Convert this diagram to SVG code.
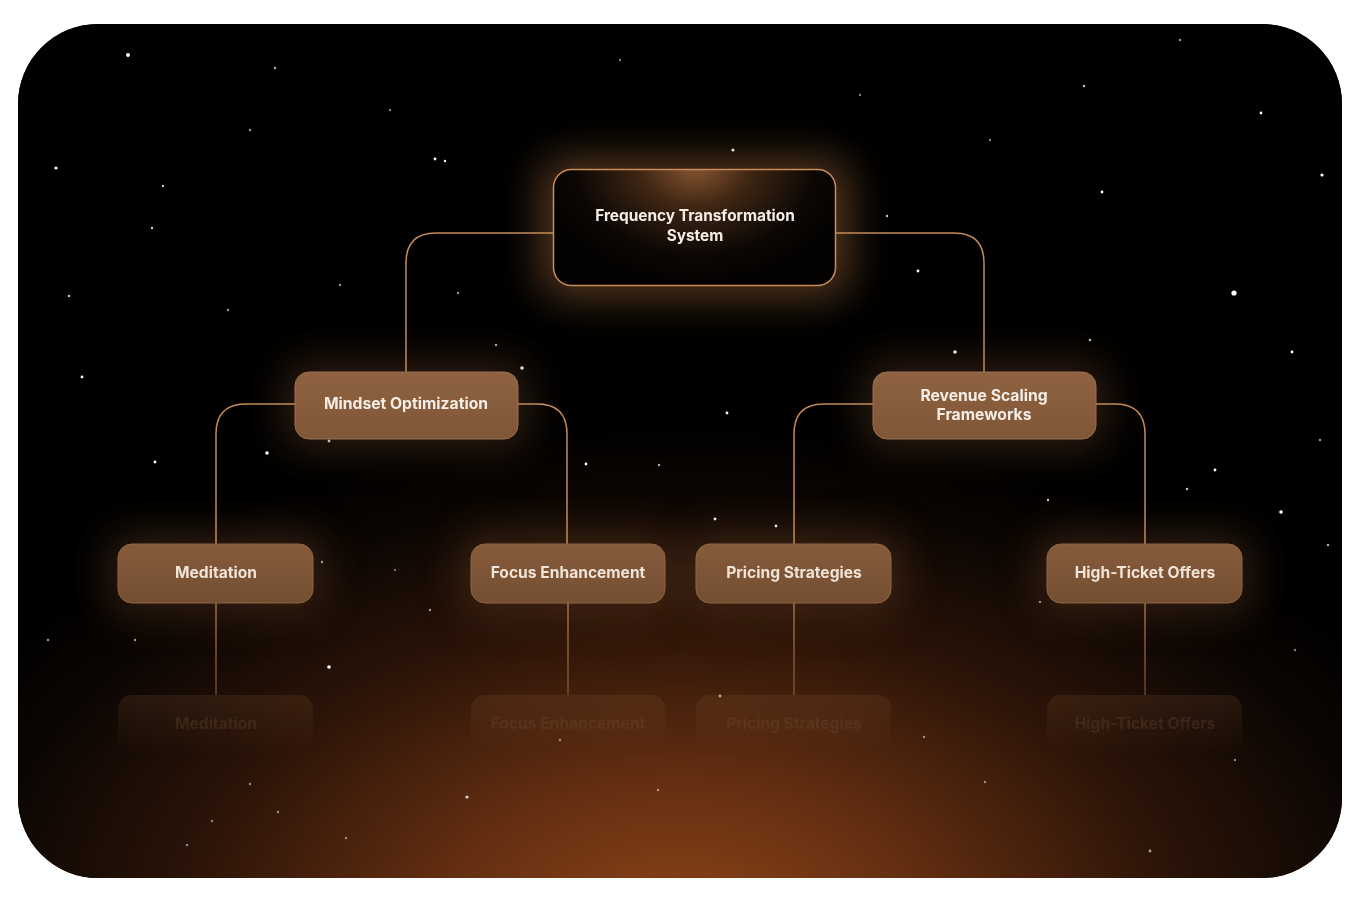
<svg xmlns="http://www.w3.org/2000/svg" width="1360" height="901" viewBox="0 0 1360 901">
<defs>
<clipPath id="panel"><rect x="18" y="24" width="1324" height="854" rx="80"/></clipPath>
<radialGradient id="bg" gradientUnits="userSpaceOnUse" cx="680" cy="930" r="820" gradientTransform="translate(680 930) scale(1 0.62) translate(-680 -930)">
<stop offset="0" stop-color="#8e4519"/>
<stop offset="0.3" stop-color="#632e11"/>
<stop offset="0.6" stop-color="#2c1408"/>
<stop offset="0.85" stop-color="#0c0603"/>
<stop offset="1" stop-color="#000"/>
</radialGradient>
<radialGradient id="rootFill" gradientUnits="userSpaceOnUse" cx="695" cy="165" r="160" gradientTransform="translate(695 165) scale(1 0.75) translate(-695 -165)">
<stop offset="0" stop-color="#8a5630"/>
<stop offset="0.35" stop-color="#3e2614"/>
<stop offset="0.75" stop-color="#0c0704"/>
<stop offset="1" stop-color="#030201"/>
</radialGradient>
<linearGradient id="nodeFill" x1="0" y1="0" x2="0" y2="1">
<stop offset="0" stop-color="#8f6341"/>
<stop offset="1" stop-color="#7f5637"/>
</linearGradient>
<linearGradient id="leafFill" x1="0" y1="0" x2="0" y2="1">
<stop offset="0" stop-color="#865b3b"/>
<stop offset="1" stop-color="#744e31"/>
</linearGradient>
<linearGradient id="reflFill" x1="0" y1="0" x2="0" y2="1">
<stop offset="0" stop-color="#8a5a38" stop-opacity="0.2"/>
<stop offset="1" stop-color="#8a5a38" stop-opacity="0"/>
</linearGradient>
<linearGradient id="reflLine" x1="0" y1="0" x2="0" y2="1">
<stop offset="0" stop-color="#b07a4c" stop-opacity="0.9"/>
<stop offset="1" stop-color="#b07a4c" stop-opacity="0.5"/>
</linearGradient>
<filter id="blur20" x="-50%" y="-100%" width="200%" height="300%"><feGaussianBlur stdDeviation="20"/></filter>
<filter id="star" x="-200%" y="-200%" width="500%" height="500%"><feGaussianBlur stdDeviation="0.6"/></filter>
</defs>
<style>
.conn{fill:none;stroke:#c48a58;stroke-width:1.5}
.lbl{font-family:Inter,"Noto Sans","DejaVu Sans",sans-serif;font-weight:700;fill:#f6eee6;text-anchor:middle}
.root-t{font-size:15.4px}
.mid-t{font-size:15.7px}
.leaf-t{font-size:15.6px;fill:#f0e4d8}
.refl-t{font-size:15.6px;fill:#7a5a42;opacity:0.25}
.node{fill:url(#nodeFill);stroke:#9a7050;stroke-width:1}
.leaf{fill:url(#leafFill);stroke:#8e6646;stroke-width:1}
.refl{fill:url(#reflFill)}
.halo{fill:#5e3b20;opacity:0.5;filter:url(#blur20)}
.s{fill:#fff}
</style>
<g clip-path="url(#panel)">
<rect x="18" y="24" width="1324" height="854" fill="#000"/>
<rect x="18" y="24" width="1324" height="854" fill="url(#bg)"/>
<g id="stars" filter="url(#star)">
<circle class="s" cx="128" cy="55" r="2"/>
<circle class="s" cx="275" cy="68" r="1.2" opacity="0.7"/>
<circle class="s" cx="733" cy="150" r="1.6"/>
<circle class="s" cx="1234" cy="293" r="2.6"/>
<circle class="s" cx="56" cy="168" r="1.6"/>
<circle class="s" cx="1322" cy="175" r="1.6"/>
<circle class="s" cx="1281" cy="512" r="1.8"/>
<circle class="s" cx="155" cy="462" r="1.4"/>
<circle class="s" cx="267" cy="453" r="1.8"/>
<circle class="s" cx="329" cy="667" r="1.8"/>
<circle class="s" cx="82" cy="377" r="1.4"/>
<circle class="s" cx="467" cy="797" r="1.6" opacity="0.8"/>
<circle class="s" cx="955" cy="352" r="1.8"/>
<circle class="s" cx="727" cy="413" r="1.4"/>
<circle class="s" cx="586" cy="464" r="1.4"/>
<circle class="s" cx="715" cy="519" r="1.4"/>
<circle class="s" cx="918" cy="271" r="1.4"/>
<circle class="s" cx="152" cy="228" r="1.2" opacity="0.8"/>
<circle class="s" cx="1102" cy="192" r="1.4"/>
<circle class="s" cx="1261" cy="113" r="1.4"/>
<circle class="s" cx="1150" cy="851" r="1.4" opacity="0.6"/>
<circle class="s" cx="435" cy="159" r="1.4"/>
<circle class="s" cx="445" cy="161" r="1.2"/>
<circle class="s" cx="163" cy="186" r="1.2" opacity="0.8"/>
<circle class="s" cx="69" cy="296" r="1.2" opacity="0.8"/>
<circle class="s" cx="1292" cy="352" r="1.4"/>
<circle class="s" cx="1215" cy="470" r="1.4"/>
<circle class="s" cx="1187" cy="489" r="1.2" opacity="0.8"/>
<circle class="s" cx="1084" cy="86" r="1.2" opacity="0.8"/>
<circle class="s" cx="1090" cy="340" r="1.2" opacity="0.8"/>
<circle class="s" cx="887" cy="216" r="1.2" opacity="0.8"/>
<circle class="s" cx="1048" cy="500" r="1.2" opacity="0.8"/>
<circle class="s" cx="1328" cy="545" r="1.2" opacity="0.7"/>
<circle class="s" cx="1100" cy="590" r="1.2" opacity="0.6"/>
<circle class="s" cx="1040" cy="602" r="1.2" opacity="0.6"/>
<circle class="s" cx="776" cy="526" r="1.4"/>
<circle class="s" cx="804" cy="596" r="1.4" opacity="0.8"/>
<circle class="s" cx="659" cy="465" r="1.2" opacity="0.7"/>
<circle class="s" cx="522" cy="368" r="1.8"/>
<circle class="s" cx="329" cy="441" r="1.4"/>
<circle class="s" cx="428" cy="425" r="1.4" opacity="0.8"/>
<circle class="s" cx="496" cy="345" r="1.2" opacity="0.7"/>
<circle class="s" cx="458" cy="293" r="1.2" opacity="0.6"/>
<circle class="s" cx="250" cy="130" r="1.2" opacity="0.6"/>
<circle class="s" cx="340" cy="285" r="1.2" opacity="0.6"/>
<circle class="s" cx="228" cy="310" r="1.2" opacity="0.6"/>
<circle class="s" cx="48" cy="640" r="1.2" opacity="0.6"/>
<circle class="s" cx="135" cy="640" r="1.2" opacity="0.6"/>
<circle class="s" cx="322" cy="562" r="1.2" opacity="0.7"/>
<circle class="s" cx="395" cy="570" r="1" opacity="0.6"/>
<circle class="s" cx="172" cy="552" r="1.2" opacity="0.7"/>
<circle class="s" cx="293" cy="571" r="1.4" opacity="0.8"/>
<circle class="s" cx="483" cy="597" r="1.2" opacity="0.6"/>
<circle class="s" cx="430" cy="610" r="1.2" opacity="0.6"/>
<circle class="s" cx="250" cy="784" r="1.2" opacity="0.5"/>
<circle class="s" cx="212" cy="821" r="1.2" opacity="0.5"/>
<circle class="s" cx="278" cy="812" r="1.2" opacity="0.5"/>
<circle class="s" cx="187" cy="845" r="1.2" opacity="0.5"/>
<circle class="s" cx="346" cy="838" r="1.2" opacity="0.5"/>
<circle class="s" cx="924" cy="737" r="1.2" opacity="0.5"/>
<circle class="s" cx="985" cy="782" r="1.2" opacity="0.5"/>
<circle class="s" cx="1235" cy="760" r="1.2" opacity="0.5"/>
<circle class="s" cx="1295" cy="650" r="1.2" opacity="0.5"/>
<circle class="s" cx="658" cy="790" r="1.2" opacity="0.5"/>
<circle class="s" cx="560" cy="740" r="1.2" opacity="0.5"/>
<circle class="s" cx="720" cy="696" r="1.4" opacity="0.7"/>
<circle class="s" cx="1320" cy="440" r="1.2" opacity="0.6"/>
<circle class="s" cx="1180" cy="40" r="1.2" opacity="0.6"/>
<circle class="s" cx="620" cy="60" r="1.2" opacity="0.5"/>
<circle class="s" cx="860" cy="95" r="1.2" opacity="0.5"/>
<circle class="s" cx="990" cy="140" r="1.2" opacity="0.5"/>
<circle class="s" cx="390" cy="110" r="1.2" opacity="0.5"/>
</g>
<g id="halos">
<rect x="540" y="158" width="310" height="140" rx="24" fill="#8a5a30" opacity="0.6" filter="url(#blur20)"/>
<rect class="halo" x="285" y="362" width="243" height="87" rx="18"/>
<rect class="halo" x="863" y="362" width="243" height="87" rx="18"/>
<rect class="halo" x="108" y="534" width="215" height="79" rx="18"/>
<rect class="halo" x="461" y="534" width="215" height="79" rx="18"/>
<rect class="halo" x="686" y="534" width="215" height="79" rx="18"/>
<rect class="halo" x="1037" y="534" width="215" height="79" rx="18"/>
</g>
<g id="connectors">
<path class="conn" d="M553 233 H436 Q406 233 406 263 V372"/>
<path class="conn" d="M836 233 H954 Q984 233 984 263 V372"/>
<path class="conn" d="M295 404 H246 Q216 404 216 434 V544"/>
<path class="conn" d="M518 404 H537 Q567 404 567 434 V544"/>
<path class="conn" d="M873 404 H824 Q794 404 794 434 V544"/>
<path class="conn" d="M1096 404 H1115 Q1145 404 1145 434 V544"/>
<path d="M216 603 V695 M568 603 V695 M794 603 V695 M1145 603 V695" fill="none" stroke="url(#reflLine)" stroke-width="1.5"/>
</g>
<g id="node-root">
<rect x="553.5" y="169.5" width="282" height="116" rx="18" fill="url(#rootFill)" stroke="#c98c58" stroke-width="1.5"/>
<text class="lbl root-t" x="695" y="221">Frequency Transformation</text>
<text class="lbl root-t" x="695" y="241">System</text>
</g>
<g id="node-mindset">
<rect class="node" x="295" y="372" width="223" height="67" rx="14"/>
<text class="lbl mid-t" x="406" y="409">Mindset Optimization</text>
</g>
<g id="node-revenue">
<rect class="node" x="873" y="372" width="223" height="67" rx="14"/>
<text class="lbl mid-t" x="984" y="401">Revenue Scaling</text>
<text class="lbl mid-t" x="984" y="420">Frameworks</text>
</g>
<g id="node-meditation">
<rect class="leaf" x="118" y="544" width="195" height="59" rx="14"/>
<text class="lbl leaf-t" x="216" y="578">Meditation</text>
</g>
<g id="node-focus">
<rect class="leaf" x="471" y="544" width="194" height="59" rx="14"/>
<text class="lbl leaf-t" x="568" y="578">Focus Enhancement</text>
</g>
<g id="node-pricing">
<rect class="leaf" x="696" y="544" width="195" height="59" rx="14"/>
<text class="lbl leaf-t" x="794" y="578">Pricing Strategies</text>
</g>
<g id="node-highticket">
<rect class="leaf" x="1047" y="544" width="195" height="59" rx="14"/>
<text class="lbl leaf-t" x="1145" y="578">High-Ticket Offers</text>
</g>
<g id="reflections">
<rect class="refl" x="118" y="695" width="195" height="59" rx="14"/>
<text class="lbl refl-t" x="216" y="729">Meditation</text>
<rect class="refl" x="471" y="695" width="194" height="59" rx="14"/>
<text class="lbl refl-t" x="568" y="729">Focus Enhancement</text>
<rect class="refl" x="696" y="695" width="195" height="59" rx="14"/>
<text class="lbl refl-t" x="794" y="729">Pricing Strategies</text>
<rect class="refl" x="1047" y="695" width="195" height="59" rx="14"/>
<text class="lbl refl-t" x="1145" y="729">High-Ticket Offers</text>
</g>
</g>
</svg>
